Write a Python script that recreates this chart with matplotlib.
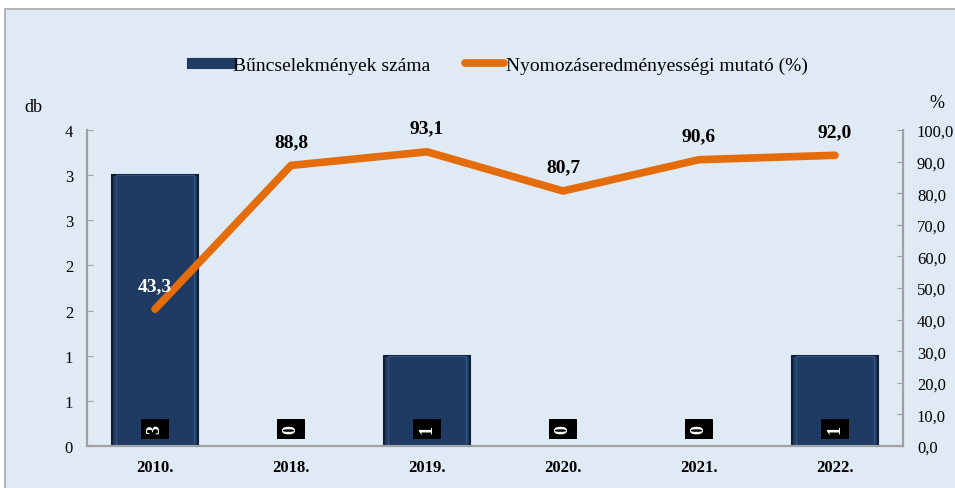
import matplotlib
matplotlib.use("Agg")
import matplotlib.pyplot as plt
from matplotlib.patches import Rectangle
from matplotlib.lines import Line2D
from matplotlib.ticker import FixedLocator, FuncFormatter

# data
years = ['2010.', '2018.', '2019.', '2020.', '2021.', '2022.']
crimes = [3, 0, 1, 0, 0, 1]
rate = [43.3, 88.8, 93.1, 80.7, 90.6, 92.0]
rate_labels = ['43,3', '88,8', '93,1', '80,7', '90,6', '92,0']

bar_color = '#1f3b63'
line_color = '#e46c0a'
axis_color = '#a0a0a0'

plt.rcParams['font.family'] = ['Liberation Serif', 'DejaVu Serif']

fig = plt.figure(figsize=(9.55, 4.89), dpi=100)
fig.patch.set_facecolor('white')
# light blue chart area with grey frame
fig.patches.append(Rectangle((5 / 955, -0.01), 1.0, 1 - 10 / 489 + 0.01,
                             transform=fig.transFigure, facecolor='#dfeaf5',
                             edgecolor='#a8a8a8', linewidth=1.2, zorder=-10))

ax = fig.add_axes([87 / 955, 1 - 447 / 489, 816 / 955, 316 / 489])
ax.set_facecolor('none')
ax2 = ax.twinx()

x = list(range(len(years)))
edges = ['#0e1e35' if c > 0 else 'none' for c in crimes]
inner = ['#2f5283' if c > 0 else 'none' for c in crimes]
ax.bar(x, crimes, width=0.63, color=bar_color, edgecolor=edges,
       linewidth=1.5, zorder=2)
ax.bar(x, crimes, width=0.57, color='none', edgecolor=inner,
       linewidth=1.0, zorder=3)
ax.set_xlim(-0.5, len(years) - 0.5)
ax.set_ylim(0, 3.5)
ax.yaxis.set_major_locator(FixedLocator([i * 0.5 for i in range(8)]))
ax.yaxis.set_major_formatter(FuncFormatter(lambda v, p: '%d' % int(v + 0.5)))

for i, c in enumerate(crimes):
    ax.text(i, 0.19, str(c), rotation=90, ha='center', va='center',
            color='white', fontsize=13, fontweight='bold', zorder=5,
            bbox=dict(boxstyle='square,pad=0.3', facecolor='black',
                      edgecolor='none'))

ax2.plot(x, rate, color=line_color, linewidth=5.5,
         solid_capstyle='round', solid_joinstyle='round', zorder=4)
ax2.set_ylim(0, 100)
ax2.yaxis.set_major_locator(FixedLocator(list(range(0, 101, 10))))
ax2.yaxis.set_major_formatter(FuncFormatter(lambda v, p: ('%.1f' % v).replace('.', ',')))

for i, (v, lab) in enumerate(zip(rate, rate_labels)):
    col = 'white' if crimes[i] * 100 / 3.5 > v + 8 else 'black'
    ax2.annotate(lab, (i, v), xytext=(0, 11), textcoords='offset points',
                 ha='center', va='bottom', fontsize=14, fontweight='bold',
                 color=col, zorder=6)

for a in (ax, ax2):
    a.spines['top'].set_visible(False)
    for s in ('left', 'right', 'bottom'):
        a.spines[s].set_color(axis_color)
        a.spines[s].set_linewidth(1.5)
    a.tick_params(axis='y', direction='in', length=4, color=axis_color,
                  labelsize=12, pad=10)

ax.set_xticks(x)
ax.set_xticklabels(years, fontweight='bold', fontsize=12)
ax.tick_params(axis='x', length=0, pad=9)

fig.text(33 / 955, 1 - 107 / 489, 'db', fontsize=13, ha='center', va='center')
fig.text(937 / 955, 1 - 103 / 489, '%', fontsize=13, ha='center', va='center')

handles = [Line2D([0], [0], color=bar_color, linewidth=8),
           Line2D([0], [0], color=line_color, linewidth=5.5, solid_capstyle='round')]
fig.legend(handles, ['Bűncselekmények száma', 'Nyomozáseredményességi mutató (%)'],
           loc='center', bbox_to_anchor=(500 / 955, 1 - 66 / 489), ncol=2,
           frameon=False, fontsize=14, handlelength=2.0, handletextpad=0.1,
           columnspacing=1.8)

fig.savefig('out.png', dpi=100, facecolor=fig.get_facecolor())
